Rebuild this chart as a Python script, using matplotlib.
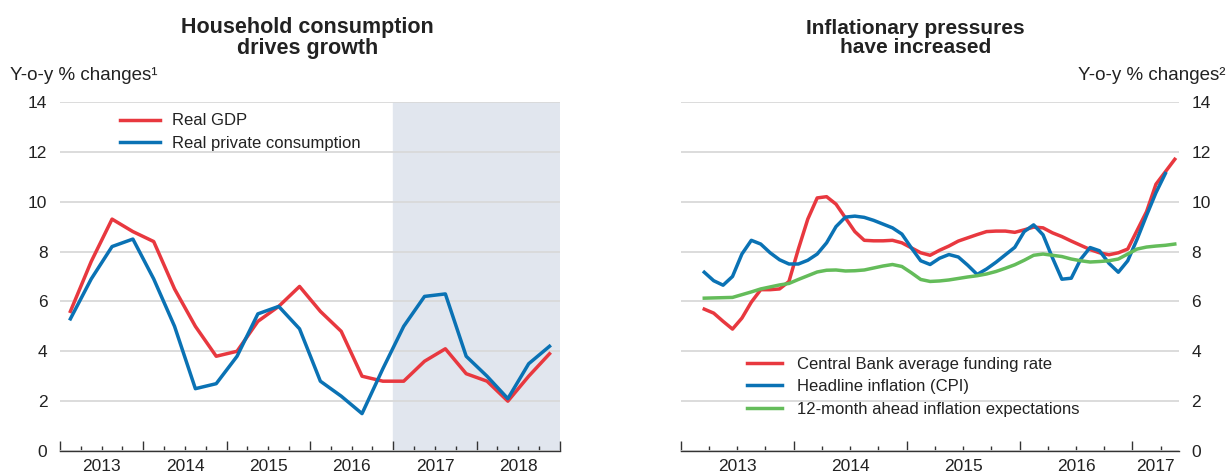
import numpy as np
import matplotlib.pyplot as plt
from matplotlib.ticker import FixedLocator, NullFormatter

plt.rcParams['font.family'] = ['Liberation Sans', 'DejaVu Sans']

# Left panel: quarterly, 2013Q1 - 2018Q4
gdp = [5.6, 7.6, 9.3, 8.8, 8.4, 6.5, 5.0, 3.8, 4.0, 5.2, 5.8, 6.6,
       5.6, 4.8, 3.0, 2.8, 2.8, 3.6, 4.1, 3.1, 2.8, 2.0, 3.0, 3.9]
consumption = [5.3, 6.9, 8.2, 8.5, 6.9, 5.0, 2.5, 2.7, 3.8, 5.5, 5.8, 4.9,
               2.8, 2.2, 1.5, 3.3, 5.0, 6.2, 6.3, 3.8, 3.0, 2.1, 3.5, 4.2]

# Right panel: monthly, from March 2013
funding_rate = [5.69, 5.53, 5.2, 4.89, 5.33, 5.97, 6.47, 6.47, 6.5, 6.8,
                8.1, 9.3, 10.15, 10.2, 9.9, 9.35, 8.8, 8.45, 8.43, 8.43,
                8.45, 8.35, 8.15, 7.95, 7.85, 8.05, 8.22, 8.42, 8.55, 8.68,
                8.8, 8.82, 8.82, 8.77, 8.87, 8.98, 8.95, 8.75, 8.6, 8.42,
                8.25, 8.08, 7.95, 7.87, 7.95, 8.1, 8.85, 9.6, 10.7, 11.2, 11.7]
cpi = [7.17, 6.83, 6.65, 7.0, 7.9, 8.45, 8.3, 7.95, 7.67, 7.5,
       7.5, 7.65, 7.9, 8.35, 9.0, 9.38, 9.42, 9.37, 9.25, 9.1,
       8.95, 8.7, 8.15, 7.63, 7.48, 7.73, 7.88, 7.78, 7.45, 7.08,
       7.3, 7.57, 7.87, 8.17, 8.8, 9.07, 8.67, 7.75, 6.89, 6.93,
       7.69, 8.16, 8.03, 7.53, 7.17, 7.63, 8.5, 9.45, 10.36, 11.13]
expectations = [6.13, 6.14, 6.15, 6.16, 6.27, 6.38, 6.5, 6.58, 6.66, 6.72,
                6.88, 7.03, 7.18, 7.25, 7.26, 7.22, 7.23, 7.26, 7.34, 7.42,
                7.48, 7.4, 7.15, 6.88, 6.8, 6.82, 6.86, 6.92, 6.98, 7.03,
                7.1, 7.2, 7.33, 7.47, 7.65, 7.85, 7.9, 7.85, 7.8, 7.7,
                7.63, 7.58, 7.6, 7.63, 7.7, 7.9, 8.1, 8.18, 8.22, 8.25, 8.3]

left_years = [2013, 2014, 2015, 2016, 2017, 2018]
right_years = [2013, 2014, 2015, 2016, 2017]

RED = '#e8383f'
BLUE = '#0a72b4'
GREEN = '#64bc5a'
GRID = '#d9d9d9'
TXT = '#222222'

x_q = 2013 + (np.arange(len(gdp)) + 0.5) / 4
x_m_r = 2013 + (np.arange(len(funding_rate)) + 2.5) / 12
x_m_b = 2013 + (np.arange(len(cpi)) + 2.5) / 12
x_m_g = 2013 + (np.arange(len(expectations)) + 2.5) / 12

fig = plt.figure(figsize=(12.29, 4.73), dpi=100)
ax1 = fig.add_axes([0.0488, 0.0465, 0.4068, 0.738])
ax2 = fig.add_axes([0.5539, 0.0465, 0.4052, 0.738])


def style(ax, x0, x1, years, label_pos):
    ax.set_xlim(x0, x1)
    ax.set_ylim(0, 14)
    ax.set_yticks(range(0, 15, 2))
    ax.grid(axis='y', color=GRID, lw=1.3)
    ax.set_axisbelow(True)
    for s in ['top', 'left', 'right']:
        ax.spines[s].set_visible(False)
    ax.spines['bottom'].set_color('#333333')
    ax.spines['bottom'].set_linewidth(1.0)
    majors = [y for y in range(years[0], int(x1) + 2) if y <= x1]
    minors = [q for q in np.arange(x0, x1 + 1e-6, 0.25) if q not in majors]
    ax.xaxis.set_major_locator(FixedLocator(majors))
    ax.xaxis.set_minor_locator(FixedLocator(minors))
    ax.xaxis.set_major_formatter(NullFormatter())
    ax.tick_params(axis='x', which='major', direction='in', length=7, width=1.0, color='#333333')
    ax.tick_params(axis='x', which='minor', direction='in', length=3.5, width=1.0, color='#333333')
    ax.tick_params(axis='y', length=0, labelsize=12.5, labelcolor=TXT)
    for y, p in zip(years, label_pos):
        ax.text(p, -0.022, str(y), transform=ax.get_xaxis_transform(), ha='center', va='top',
                fontsize=12.5, color=TXT)


# Left panel
style(ax1, 2013, 2019, left_years, [y + 0.5 for y in left_years])
ax1.axvspan(2017, 2019, color='#e1e6ee', zorder=0)
ax1.plot(x_q, gdp, color=RED, lw=2.5, label='Real GDP')
ax1.plot(x_q, consumption, color=BLUE, lw=2.5, label='Real private consumption')
ax1.tick_params(axis='y', pad=9)
ax1.legend(loc='upper left', bbox_to_anchor=(0.09, 1.01), frameon=False, fontsize=12,
           handlelength=2.4, handletextpad=0.75, labelspacing=0.45, labelcolor=TXT)
fig.text(0.008, 0.84, 'Y-o-y % changes¹', fontsize=13.5, color=TXT, va='center')
fig.text(0.25, 0.92, 'Household consumption\ndrives growth', ha='center', va='center',
         fontsize=15.5, fontweight='bold', color=TXT, linespacing=1.0)

# Right panel
x_end = 2017.41
style(ax2, 2013, x_end, right_years, [2013.5, 2014.5, 2015.5, 2016.5, (2017 + x_end) / 2])
ax2.plot(x_m_r, funding_rate, color=RED, lw=2.5, label='Central Bank average funding rate')
ax2.plot(x_m_b, cpi, color=BLUE, lw=2.5, label='Headline inflation (CPI)')
ax2.plot(x_m_g, expectations, color=GREEN, lw=2.5, label='12-month ahead inflation expectations')
ax2.yaxis.tick_right()
ax2.tick_params(axis='y', pad=9)
ax2.legend(loc='lower left', bbox_to_anchor=(0.102, 0.055), frameon=False, fontsize=12,
           handlelength=2.1, handletextpad=0.9, labelspacing=0.45, labelcolor=TXT)
fig.text(0.997, 0.84, 'Y-o-y % changes²', fontsize=13.5, color=TXT, va='center', ha='right')
fig.text(0.745, 0.92, 'Inflationary pressures\nhave increased', ha='center', va='center',
         fontsize=15, fontweight='bold', color=TXT, linespacing=1.0)

fig.savefig('out.png', dpi=100)
